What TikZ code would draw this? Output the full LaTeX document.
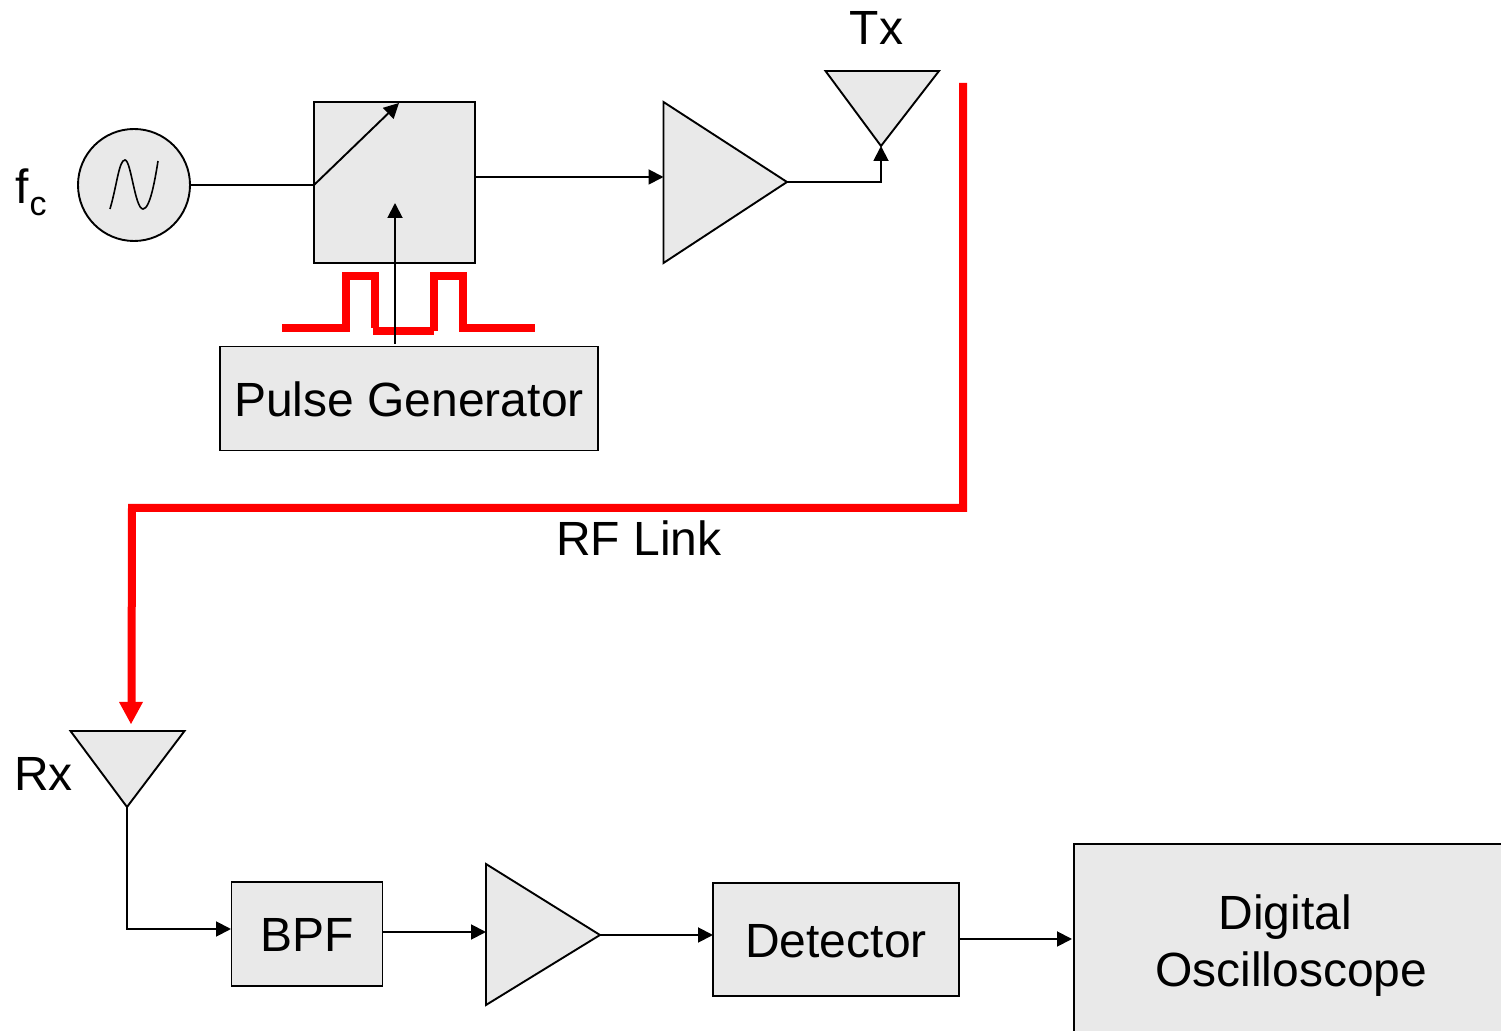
\documentclass[tikz,border=0pt]{standalone}
\usepackage{fontspec}
\setmainfont{Liberation Sans}
\usetikzlibrary{arrows.meta}
\definecolor{blockgray}{HTML}{E9E9E9}
\definecolor{linkred}{HTML}{FF0000}
\tikzset{
  wire/.style={draw=black,line width=0.95pt},
  arrowwire/.style={wire,-{Triangle[length=7.5pt,width=7.5pt]}},
  blockbox/.style={draw=black,line width=0.95pt,fill=blockgray,inner sep=0pt,outer sep=0pt,
    align=center,font=\fontsize{24}{28.5}\selectfont,text height=18.5pt,text depth=0pt},
  roundbox/.style={circle,draw=black,line width=0.95pt,fill=blockgray,inner sep=0pt,outer sep=0pt,minimum size=56pt},
  tri/.style={draw=black,line width=0.95pt,fill=blockgray,line join=miter},
  rflink/.style={draw=linkred,line width=4pt,line join=miter},
  pulse/.style={draw=linkred,line width=4pt,line join=miter},
  txt/.style={inner sep=0pt,outer sep=0pt,anchor=base,font=\fontsize{24}{28.5}\selectfont},
}
\begin{document}
\begin{tikzpicture}[x=0.5pt,y=-0.5pt]
\useasboundingbox (0,0) rectangle (1501,1031);
\clip (0,0) rectangle (1501,1031);
\fill[white] (0,0) rectangle (1501,1031);

% red pulses
\draw[pulse] (282,328) -- (346,328) -- (346,276) -- (375,276) -- (375,328);
\draw[pulse] (373,331) -- (434,331);
\draw[pulse] (434,331) -- (434,276) -- (463,276) -- (463,328) -- (535,328);

% blocks
\node[roundbox] (osc) at (134,185) {};
\draw[line width=0.8pt] (110,209) .. controls (117,185) and (119,160) .. (125,160)
  .. controls (131,160) and (135,209) .. (143,209)
  .. controls (150,209) and (155,180) .. (158,161);
\node[blockbox,minimum width=80.5pt,minimum height=80.5pt] (switch) at (394.5,182.5) {};
\node[blockbox,minimum width=189.25pt,minimum height=52pt] (pg) at (409,398.5) {Pulse Generator};
\node[blockbox,minimum width=75.5pt,minimum height=52pt,text height=17.5pt] (bpf) at (307,934) {BPF};
\node[blockbox,minimum width=123pt,minimum height=56.5pt,text height=18pt] (det) at (836,939.5) {Detector};
\node[blockbox,minimum width=217.5pt,minimum height=101.5pt,text height=,text depth=] (scope) at (1291.25,945.5) {Digital\hspace*{6pt}\\Oscilloscope};

% triangles
\coordinate (ampAt) at (663.5,102); \coordinate (ampAb) at (663.5,263); \coordinate (ampAo) at (787,182);
\coordinate (txL) at (825.5,71); \coordinate (txR) at (939,71); \coordinate (txT) at (881,146);
\coordinate (rxL) at (70.5,731); \coordinate (rxR) at (184.5,731); \coordinate (rxT) at (127,807);
\coordinate (ampBt) at (486,864); \coordinate (ampBb) at (486,1005); \coordinate (ampBo) at (600,935);
\draw[tri] (ampAt) -- (ampAo) -- (ampAb) -- cycle;
\draw[tri] (txL) -- (txR) -- (txT) -- cycle;
\draw[tri] (rxL) -- (rxR) -- (rxT) -- cycle;
\draw[tri] (ampBt) -- (ampBo) -- (ampBb) -- cycle;

% connectors
\coordinate (swIn) at (switch.west |- osc.east);
\coordinate (swTip) at (399,103);
\coordinate (pgOut) at (395,344);
\coordinate (swCtl) at (395,203);
\coordinate (swOut) at (475,177);
\coordinate (ampAin) at (663.5,177);
\coordinate (txCorner) at (881,182);
\coordinate (rxCorner) at (127,929);
\coordinate (bpfIn) at (231,929);
\coordinate (bpfOut) at (382.5,932);
\coordinate (ampBin) at (486,932);
\coordinate (detIn) at (713,935);
\coordinate (detOut) at (959,939);
\coordinate (scopeIn) at (1072,939);
\draw[wire] (osc.east) -- (swIn);
\draw[arrowwire] (swIn) -- (swTip);
\draw[arrowwire] (pgOut) -- (swCtl);
\draw[arrowwire] (swOut) -- (ampAin);
\draw[arrowwire] (ampAo) -- (txCorner) -- (txT);
\draw[arrowwire] (rxT) -- (rxCorner) -- (bpfIn);
\draw[arrowwire] (bpfOut) -- (ampBin);
\draw[arrowwire] (ampBo) -- (detIn);
\draw[arrowwire] (detOut) -- (scopeIn);

% RF link
\coordinate (linkA) at (963,83); \coordinate (linkB) at (963,508);
\coordinate (linkC) at (132,508); \coordinate (linkD) at (131,724);
\draw[rflink] (linkA) -- (linkB) -- (linkC) -- (131.5,705);
\fill[linkred] (linkD) -- (119,702) -- (143,702) -- cycle;

% labels
\node[txt,anchor=base west] (fc) at (16,204) {f};
\node[inner sep=0pt,outer sep=0pt,anchor=base west,font=\fontsize{17}{20}\selectfont] (fcsub) at (29.5,215.5) {c};
\node[txt] (txlabel) at (876.5,45) {Tx};
\node[txt] (rxlabel) at (43.5,791) {Rx};
\node[txt] (rflabel) at (639,555.5) {RF Link};
\end{tikzpicture}
\end{document}
